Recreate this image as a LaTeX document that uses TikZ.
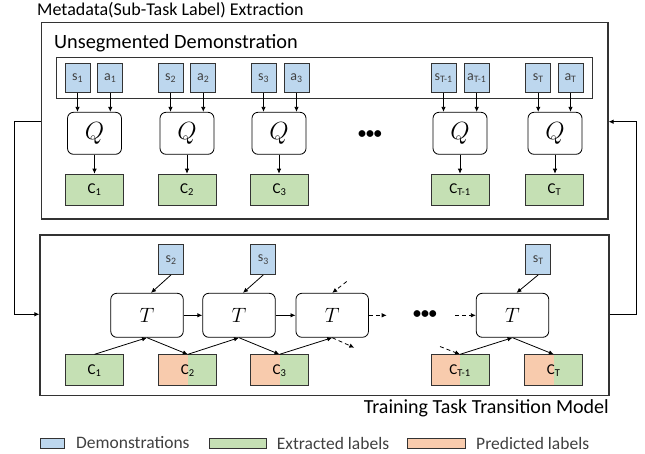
\documentclass[tikz,border=0pt]{standalone}
\usepackage{fontspec}
\setmainfont{Carlito}
\usetikzlibrary{arrows.meta}
\definecolor{blu}{HTML}{BDD7EE}
\definecolor{grn}{HTML}{C5E0B4}
\definecolor{orng}{HTML}{F8CBAD}
\definecolor{edge}{HTML}{333333}
\definecolor{txt}{HTML}{404040}
\newcommand{\sbs}[1]{\textsubscript{#1}}
\begin{document}
\begin{tikzpicture}[x=1pt,y=-1pt,
  sbox/.style={draw=edge,line width=0.9pt,fill=blu,minimum width=25pt,minimum height=29.5pt,inner sep=0pt,font=\fontsize{14}{14}\selectfont,text=txt},
  qbox/.style={draw=black,line width=0.8pt,rounded corners=6pt,fill=white,minimum width=54pt,minimum height=42pt,inner sep=0pt,font=\fontsize{23}{23}\selectfont},
  tbox/.style={draw=black,line width=0.8pt,rounded corners=6pt,fill=white,minimum width=72.5pt,minimum height=44pt,inner sep=0pt,font=\fontsize{21}{21}\selectfont},
  cbox/.style={draw=edge,line width=0.9pt,fill=grn,minimum width=58pt,minimum height=31pt,inner sep=0pt,font=\fontsize{15}{15}\selectfont},
  hbox/.style={cbox,path picture={
     \fill[orng] (path picture bounding box.south west) rectangle (path picture bounding box.north);
     \fill[grn] (path picture bounding box.south) rectangle (path picture bounding box.north east);}},
  frame/.style={draw=edge,line width=1.2pt,inner sep=0pt},
  arr/.style={-{Latex[length=5pt,width=4.5pt]},line width=0.8pt},
  darr/.style={arr,dash pattern=on 4pt off 3pt},
  ttl/.style={inner sep=0pt,text=black},
  legtxt/.style={inner sep=0pt,anchor=west,text=txt,font=\fontsize{17.5}{17.5}\selectfont},
  legbox/.style={draw=edge,line width=1pt}
]
\useasboundingbox (0,0) rectangle (645,454);

% outer frames
\node[frame,minimum width=566.3pt,minimum height=196.3pt] (topbox) at (324.85,120.85) {};
\node[frame,minimum width=569pt,minimum height=160.7pt] (botbox) at (324.5,315.35) {};
\node[frame,line width=1pt,minimum width=535.3pt,minimum height=41.7pt] (demo) at (324.35,78.15) {};

\node[ttl,anchor=west,font=\fontsize{18}{18}\selectfont] (title1) at (37,10) {Metadata(Sub-Task Label) Extraction};
\node[ttl,anchor=west,font=\fontsize{20.3}{20.3}\selectfont] (title2) at (54,43) {Unsegmented Demonstration};
\node[ttl,anchor=east,font=\fontsize{20}{20}\selectfont] (title3) at (609,408.5) {Training Task Transition Model};

% top row
\node[sbox] (s1) at (77.5,78) {s\sbs{1}};
\node[sbox] (a1) at (110.3,78) {a\sbs{1}};
\node[sbox] (s2) at (170.5,78) {s\sbs{2}};
\node[sbox] (a2) at (203.3,78) {a\sbs{2}};
\node[sbox] (s3) at (263.5,78) {s\sbs{3}};
\node[sbox] (a3) at (296.5,78) {a\sbs{3}};
\node[sbox] (sT1) at (443.5,78) {s\sbs{T-1}};
\node[sbox] (aT1) at (476.7,78) {a\sbs{T-1}};
\node[sbox] (sT) at (538.2,78) {s\sbs{T}};
\node[sbox] (aT) at (570.5,78) {a\sbs{T}};

\node[qbox] (Q1) at (94.5,133.3) {$Q$};
\node[qbox] (Q2) at (187,133.3) {$Q$};
\node[qbox] (Q3) at (279,133.3) {$Q$};
\node[qbox] (QT1) at (460,133.3) {$Q$};
\node[qbox] (QT) at (555,133.3) {$Q$};
\node[inner sep=0pt,font=\fontsize{16}{16}\selectfont\bfseries] (dots1) at (370,135) {•••};

\node[cbox] (c1) at (94.5,189.7) {C\sbs{1}};
\node[cbox] (c2) at (187,189.7) {C\sbs{2}};
\node[cbox] (c3) at (279.5,189.7) {C\sbs{3}};
\node[cbox] (cT1) at (460,189.7) {C\sbs{T-1}};
\node[cbox] (cT) at (554.5,189.7) {C\sbs{T}};

\foreach \s/\q in {s1/Q1,a1/Q1,s2/Q2,a2/Q2,s3/Q3,a3/Q3,sT1/QT1,aT1/QT1,sT/QT,aT/QT}
  \draw[arr] (\s.south) -- (\s.south |- \q.north);
\foreach \q/\c in {Q1/c1,Q2/c2,Q3/c3,QT1/cT1,QT/cT}
  \draw[arr] (\q.south) -- (\q.south |- \c.north);

% bottom row
\node[sbox] (bs2) at (171,259.7) {s\sbs{2}};
\node[sbox] (bs3) at (263.3,259.7) {s\sbs{3}};
\node[sbox] (bsT) at (538.2,259.7) {s\sbs{T}};

\node[tbox] (T1) at (147,315.3) {$T$};
\node[tbox] (T2) at (239,315.3) {$T$};
\node[tbox] (T3) at (332.2,315.3) {$T$};
\node[tbox] (TT) at (512.5,315.3) {$T$};
\node[inner sep=0pt,font=\fontsize{16}{16}\selectfont\bfseries] (dots2) at (425,315) {•••};

\node[cbox] (d1) at (94.5,370.3) {C\sbs{1}};
\node[hbox] (d2) at (187.8,370.3) {C\sbs{2}};
\node[hbox] (d3) at (279.5,370.3) {C\sbs{3}};
\node[hbox] (dT1) at (460,370.3) {C\sbs{T-1}};
\node[hbox] (dT) at (553.8,370.3) {C\sbs{T}};

\draw[arr] (bs2.south) -- ([xshift=4pt]T1.north);
\draw[arr] (bs3.south) -- ([xshift=4pt]T2.north);
\draw[arr] (bsT.south) -- ([xshift=4pt]TT.north);
\draw[arr] (T1.east) -- (T2.west);
\draw[arr] (T2.east) -- (T3.west);
\draw[arr] (d1.north) -- (T1.south);
\draw[arr] (T1.south) -- (d2.north);
\draw[arr] (d2.north) -- (T2.south);
\draw[arr] (T2.south) -- (d3.north);
\draw[arr] (d3.north) -- (T3.south);
\draw[arr] (dT1.north) -- (TT.south);
\draw[arr] (TT.south) -- (dT.north);

\coordinate (e1) at (354.3,347.7);
\coordinate (e2) at (346.7,281.5);
\coordinate (e3) at (386.7,315.3);
\coordinate (e4) at (455,315.3);
\coordinate (e5) at (440,346.5);
\draw[darr] (T3.south) -- (e1);
\draw[darr] (e2) -- (T3.north);
\draw[darr] (T3.east) -- (e3);
\draw[darr] (e4) -- (TT.west);
\draw[darr] (e5) -- (dT1.north);

% feedback connectors
\draw[arr] (topbox.west |- 0,121.7) -- (14,121.7) -- (14,314.3) -- (botbox.west |- 0,314.3);
\draw[arr] (botbox.east |- 0,314.3) -- (636,314.3) -- (636,121.7) -- (topbox.east |- 0,121.7);

% legend
\draw[legbox,fill=blu] (40,438.3) rectangle (64,448.3);
\node[legtxt] (l1) at (76,443) {Demonstrations};
\draw[legbox,fill=grn] (209,438.3) rectangle (266.7,448.3);
\node[legtxt] (l2) at (276.7,443) {Extracted labels};
\draw[legbox,fill=orng] (407.7,438.3) rectangle (465,448.3);
\node[legtxt] (l3) at (476,443) {Predicted labels};
\end{tikzpicture}
\end{document}
